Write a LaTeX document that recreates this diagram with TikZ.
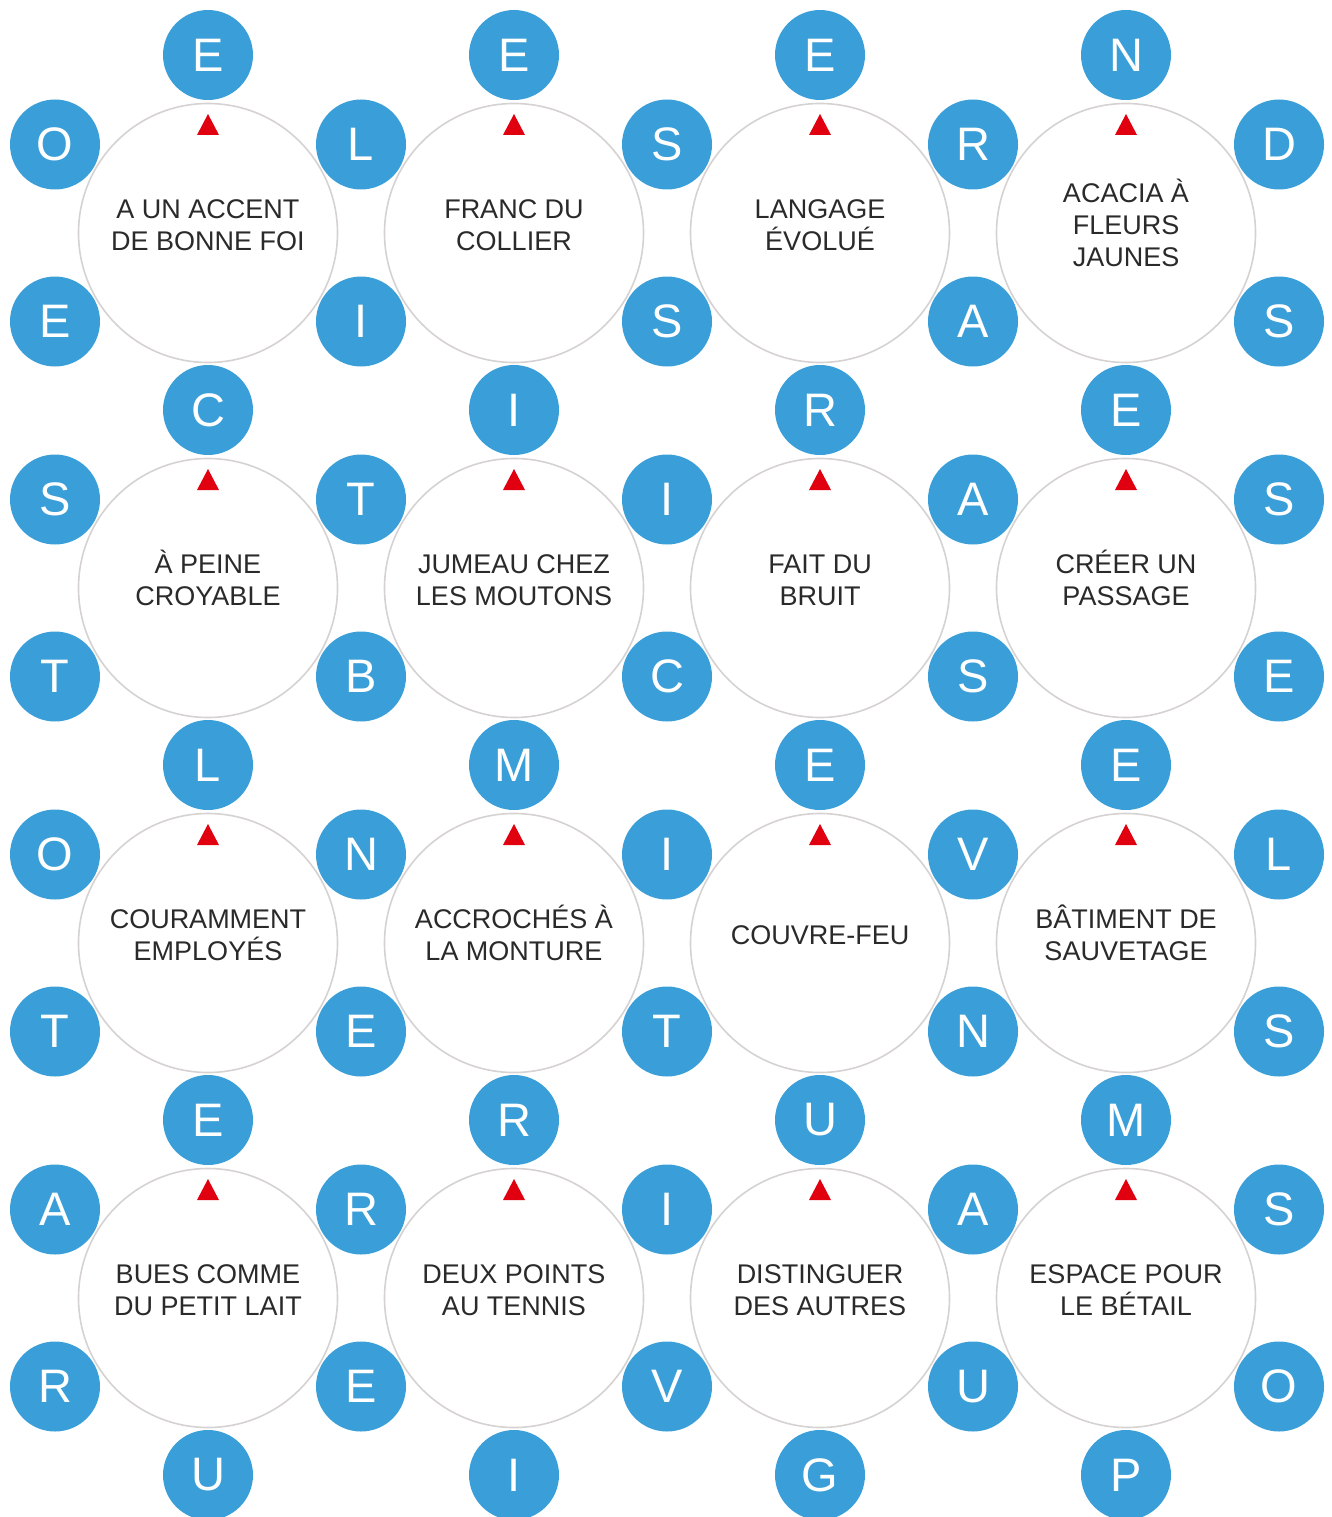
\documentclass[tikz,border=0pt]{standalone}
\usepackage{fontspec}
\setmainfont{Liberation Sans}
\definecolor{ltblue}{HTML}{3A9FD8}
\definecolor{ringgray}{HTML}{D6D2D2}
\definecolor{cluegray}{HTML}{2A2A2A}
\definecolor{tired}{HTML}{E00010}
\newcommand\cluetext[1]{\rule{0pt}{28pt}#1\rule[-8pt]{0pt}{8pt}}
\begin{document}
\begin{tikzpicture}[x=1pt,y=-1pt,
  bigc/.style={circle,draw=ringgray,line width=1.6pt,fill=white,minimum size=259pt,inner sep=0pt},
  letc/.style={circle,fill=ltblue,minimum size=90pt,inner sep=0pt,text=white,font=\fontsize{47}{47}\selectfont},
  clue/.style={align=center,inner sep=0pt,text=cluegray,font=\fontsize{27}{32}\selectfont},
  redtri/.style={fill=tired}]
\useasboundingbox (0,0) rectangle (1331,1517);
\clip (0,0) rectangle (1331,1517);
% big circles
\foreach \j in {0,...,3}{
  \foreach \i in {0,...,3}{
    \node[bigc] (c-\j-\i) at ({208+306*\i},{233+355*\j}) {};
    \fill[redtri] ({208+306*\i-11},{233+355*\j-98}) -- ({208+306*\i+11},{233+355*\j-98}) -- ({208+306*\i},{233+355*\j-119}) -- cycle;
  }
}
% top / bottom letters
\foreach \row [count=\j from 0] in {{E,E,E,N},{C,I,R,E},{L,M,E,E},{E,R,U,M},{U,I,G,P}}{
  \foreach \l [count=\i from 0] in \row {
    \node[letc] (t-\j-\i) at ({208+306*\i},{55+355*\j}) {\l};
  }
}
% upper side letters
\foreach \row [count=\j from 0] in {{O,L,S,R,D},{S,T,I,A,S},{O,N,I,V,L},{A,R,I,A,S}}{
  \foreach \l [count=\k from 0] in \row {
    \node[letc] (u-\j-\k) at ({55+306*\k},{144.5+355*\j}) {\l};
  }
}
% lower side letters
\foreach \row [count=\j from 0] in {{E,I,S,A,S},{T,B,C,S,E},{T,E,T,N,S},{R,E,V,U,O}}{
  \foreach \l [count=\k from 0] in \row {
    \node[letc] (w-\j-\k) at ({55+306*\k},{321.5+355*\j}) {\l};
  }
}
% clues
\node[clue] (q-0-0) at (208,224.5) {\cluetext{A UN ACCENT\\DE BONNE FOI}};
\node[clue] (q-0-1) at (514,224.5) {\cluetext{FRANC DU\\COLLIER}};
\node[clue] (q-0-2) at (820,224.5) {\cluetext{LANGAGE\\ÉVOLUÉ}};
\node[clue] (q-0-3) at (1126,224.5) {\cluetext{ACACIA À\\FLEURS\\JAUNES}};
\node[clue] (q-1-0) at (208,579.5) {\cluetext{À PEINE\\CROYABLE}};
\node[clue] (q-1-1) at (514,579.5) {\cluetext{JUMEAU CHEZ\\LES MOUTONS}};
\node[clue] (q-1-2) at (820,579.5) {\cluetext{FAIT DU\\BRUIT}};
\node[clue] (q-1-3) at (1126,579.5) {\cluetext{CRÉER UN\\PASSAGE}};
\node[clue] (q-2-0) at (208,934.5) {\cluetext{COURAMMENT\\EMPLOYÉS}};
\node[clue] (q-2-1) at (514,934.5) {\cluetext{ACCROCHÉS À\\LA MONTURE}};
\node[clue] (q-2-2) at (820,934.5) {\cluetext{COUVRE-FEU}};
\node[clue] (q-2-3) at (1126,934.5) {\cluetext{BÂTIMENT DE\\SAUVETAGE}};
\node[clue] (q-3-0) at (208,1289.5) {\cluetext{BUES COMME\\DU PETIT LAIT}};
\node[clue] (q-3-1) at (514,1289.5) {\cluetext{DEUX POINTS\\AU TENNIS}};
\node[clue] (q-3-2) at (820,1289.5) {\cluetext{DISTINGUER\\DES AUTRES}};
\node[clue] (q-3-3) at (1126,1289.5) {\cluetext{ESPACE POUR\\LE BÉTAIL}};
\end{tikzpicture}
\end{document}
